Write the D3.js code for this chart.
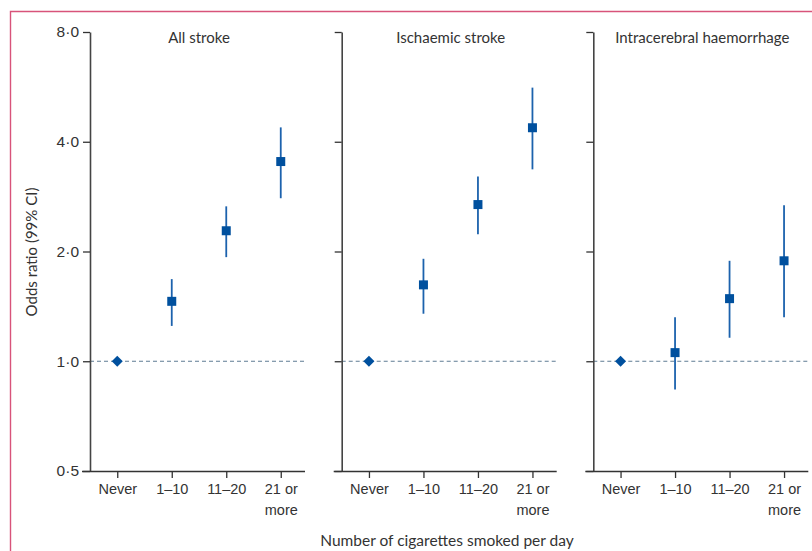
<!DOCTYPE html>
<html>
<head>
<meta charset="utf-8">
<script src="https://cdn.jsdelivr.net/npm/d3@7"></script>
<style>
  body { margin: 0; background: #fff; }
  svg { display: block; font-family: Lato, "Open Sans", sans-serif; }
</style>
</head>
<body>
<div id="wrapper"></div>
<script>
// data
const categories = ["Never", "1–10", "11–20", "21 or more"]
const panelNames = ["All stroke", "Ischaemic stroke", "Intracerebral haemorrhage"]
const yTicks = [0.5, 1, 2, 4, 8]
const yTickLabels = ["0·5", "1·0", "2·0", "4·0", "8·0"]

// odds ratio, lower, upper (null CI for reference group)
const allStroke = [[1, null, null], [1.46, 1.25, 1.68], [2.28, 1.93, 2.66], [3.53, 2.80, 4.38]]
const ischaemic = [[1, null, null], [1.62, 1.35, 1.91], [2.69, 2.23, 3.21], [4.37, 3.36, 5.63]]
const haemorrhage = [[1, null, null], [1.056, 0.837, 1.32], [1.485, 1.16, 1.886], [1.886, 1.32, 2.68]]
const panelData = [allStroke, ischaemic, haemorrhage]

const width = 812
const height = 551
const blue = "#00509e"

const svg = d3.select("#wrapper")
    .append("svg")
    .attr("width", width)
    .attr("height", height)

// pink frame
svg.append("path")
    .attr("d", `M10.5,${height + 5} L10.5,11.5 L${width + 5},11.5`)
    .attr("fill", "none")
    .attr("stroke", "#d8537a")
    .attr("stroke-width", 1.4)

const yScale = d3.scaleLog()
    .domain([0.5, 8])
    .range([471, 32])

const xScale = d3.scalePoint()
    .domain(categories)
    .range([0, 218])
    .padding(0.5)

const panelX = [90, 341.7, 593.3]

panelData.forEach((data, i) => {
    const g = svg.append("g")
        .attr("transform", `translate(${panelX[i]},0)`)

    // reference line at 1
    g.append("line")
        .attr("x1", 0)
        .attr("x2", 215)
        .attr("y1", yScale(1))
        .attr("y2", yScale(1))
        .attr("stroke", "#5f7c94")
        .attr("stroke-width", 1.2)
        .attr("stroke-dasharray", "4,3")

    // y axis
    const yAxis = g.append("g")
        .call(d3.axisLeft(yScale)
            .tickValues(yTicks)
            .tickSize(7)
            .tickSizeOuter(0)
            .tickFormat((d, j) => i == 0 ? yTickLabels[j] : ""))
    yAxis.select(".domain").attr("stroke", "#444").attr("stroke-width", 1.6)
    yAxis.selectAll(".tick line").attr("stroke", "#333").attr("stroke-width", 1.3)
    yAxis.selectAll(".tick text")
        .attr("fill", "#333")
        .attr("font-size", "15.5px")
        .attr("x", -11)

    // x axis
    const xAxis = g.append("g")
        .attr("transform", `translate(0,${yScale(0.5)})`)
        .call(d3.axisBottom(xScale).tickSize(7).tickSizeOuter(0).tickFormat(""))
    xAxis.select(".domain")
        .attr("d", "M-8,0.5H215")
        .attr("stroke", "#333")
        .attr("stroke-width", 1.3)
    xAxis.selectAll(".tick line").attr("stroke", "#333").attr("stroke-width", 1.3)
    xAxis.selectAll(".tick").each(function(d) {
        const t = d3.select(this).append("text")
            .attr("fill", "#333")
            .attr("font-size", "14.5px")
            .attr("text-anchor", "middle")
            .attr("y", 23)
        const parts = d == "21 or more" ? ["21 or", "more"] : [d]
        parts.forEach((p, k) => {
            t.append("tspan").attr("x", 0).attr("dy", k == 0 ? 0 : 21).text(p)
        })
    })

    // panel title
    g.append("text")
        .attr("x", 109)
        .attr("y", 43)
        .attr("text-anchor", "middle")
        .attr("fill", "#333")
        .attr("font-size", "15px")
        .text(panelNames[i])

    // error bars
    g.selectAll(".ci")
        .data(data.filter(d => d[1] != null).map((d, k) => ({ cat: categories[k + 1], v: d })))
        .enter()
        .append("line")
        .attr("x1", d => xScale(d.cat))
        .attr("x2", d => xScale(d.cat))
        .attr("y1", d => yScale(d.v[1]))
        .attr("y2", d => yScale(d.v[2]))
        .attr("stroke", "#1c62ad")
        .attr("stroke-width", 1.8)

    // points
    g.selectAll(".pt")
        .data(data.map((d, k) => ({ cat: categories[k], v: d })))
        .enter()
        .append("path")
        .attr("transform", d => `translate(${xScale(d.cat)},${yScale(d.v[0])})`)
        .attr("d", d => d.v[1] == null ? "M0,-5.5L5.5,0L0,5.5L-5.5,0Z" : "M-4.5,-4.5H4.5V4.5H-4.5Z")
        .attr("fill", blue)
})

// axis titles
svg.append("text")
    .attr("transform", "translate(37,252) rotate(-90)")
    .attr("text-anchor", "middle")
    .attr("fill", "#333")
    .attr("font-size", "15px")
    .text("Odds ratio (99% CI)")

svg.append("text")
    .attr("x", 447)
    .attr("y", 546)
    .attr("text-anchor", "middle")
    .attr("fill", "#333")
    .attr("font-size", "15.5px")
    .text("Number of cigarettes smoked per day")
</script>
</body>
</html>
